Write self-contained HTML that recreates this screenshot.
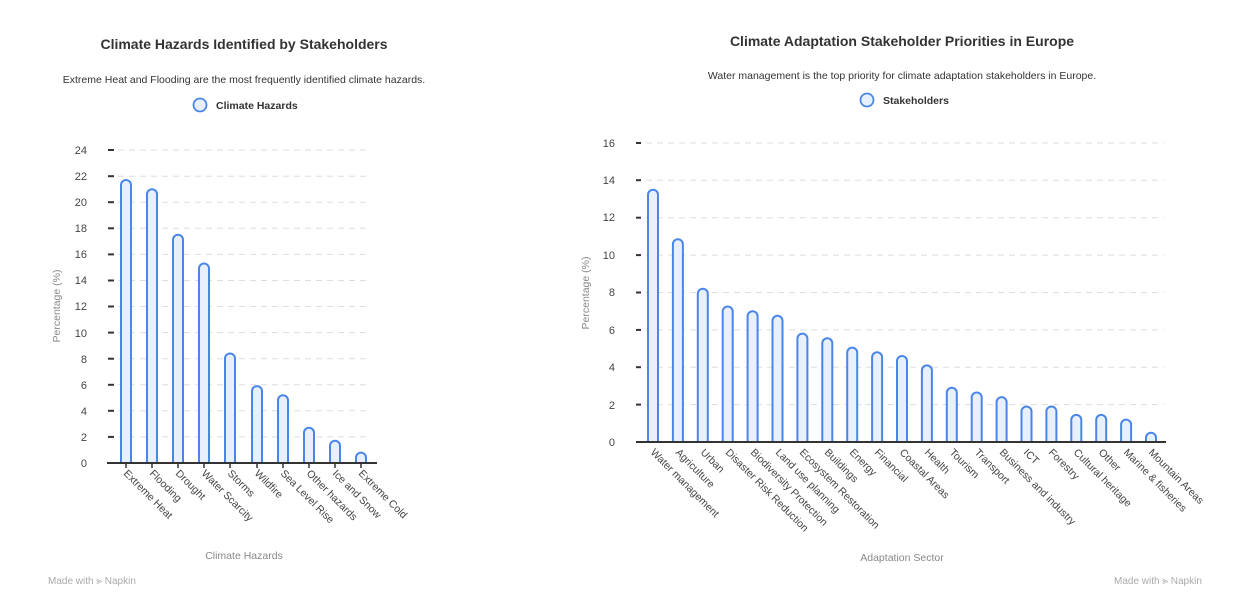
<!DOCTYPE html>
<html><head><meta charset="utf-8"><style>
html,body{margin:0;padding:0;background:#fff;}
svg{display:block;font-family:"Liberation Sans",sans-serif;}
.t{font-size:14px;font-weight:bold;fill:#333;text-anchor:middle}
.s{font-size:10.5px;fill:#333;text-anchor:middle}
.lg{font-size:10.5px;font-weight:bold;fill:#333}
.yl{font-size:11px;fill:#444;text-anchor:end}
.xl{font-size:10.5px;fill:#444}
.at{font-size:10.5px;fill:#888;text-anchor:middle}
.g{stroke:#ddd;stroke-width:1;stroke-dasharray:6 5}
.tk{stroke:#333;stroke-width:2}
.b rect{fill:#e8f0fe;stroke:#4a86e8;stroke-width:2}
.m{font-size:10px;fill:#aaa}
</style></head><body>
<svg width="1251" height="607" viewBox="0 0 1251 607">
<defs>
<clipPath id="c1"><rect x="0" y="0" width="600" height="464"/></clipPath>
<clipPath id="c2"><rect x="600" y="0" width="651" height="443"/></clipPath>
</defs>
<!-- LEFT -->
<text class="t" x="244" y="49">Climate Hazards Identified by Stakeholders</text>
<text class="s" x="244" y="83">Extreme Heat and Flooding are the most frequently identified climate hazards.</text>
<circle cx="200" cy="105" r="6.5" fill="#e8f0fe" stroke="#4a86e8" stroke-width="1.8"/>
<text class="lg" x="216" y="109">Climate Hazards</text>
<g>
<line class="g" x1="118" x2="370" y1="436.9" y2="436.9"/><line class="g" x1="118" x2="370" y1="410.8" y2="410.8"/>
<line class="g" x1="118" x2="370" y1="384.8" y2="384.8"/><line class="g" x1="118" x2="370" y1="358.7" y2="358.7"/>
<line class="g" x1="118" x2="370" y1="332.6" y2="332.6"/><line class="g" x1="118" x2="370" y1="306.5" y2="306.5"/>
<line class="g" x1="118" x2="370" y1="280.5" y2="280.5"/><line class="g" x1="118" x2="370" y1="254.4" y2="254.4"/>
<line class="g" x1="118" x2="370" y1="228.3" y2="228.3"/><line class="g" x1="118" x2="370" y1="202.2" y2="202.2"/>
<line class="g" x1="118" x2="370" y1="176.2" y2="176.2"/><line class="g" x1="118" x2="370" y1="150" y2="150"/>
<line class="tk" x1="108" x2="114" y1="436.9" y2="436.9"/><line class="tk" x1="108" x2="114" y1="410.8" y2="410.8"/>
<line class="tk" x1="108" x2="114" y1="384.8" y2="384.8"/><line class="tk" x1="108" x2="114" y1="358.7" y2="358.7"/>
<line class="tk" x1="108" x2="114" y1="332.6" y2="332.6"/><line class="tk" x1="108" x2="114" y1="306.5" y2="306.5"/>
<line class="tk" x1="108" x2="114" y1="280.5" y2="280.5"/><line class="tk" x1="108" x2="114" y1="254.4" y2="254.4"/>
<line class="tk" x1="108" x2="114" y1="228.3" y2="228.3"/><line class="tk" x1="108" x2="114" y1="202.2" y2="202.2"/>
<line class="tk" x1="108" x2="114" y1="176.2" y2="176.2"/><line class="tk" x1="108" x2="114" y1="150" y2="150"/>
</g>
<g>
<text class="yl" x="87" y="467">0</text><text class="yl" x="87" y="441">2</text><text class="yl" x="87" y="415">4</text>
<text class="yl" x="87" y="389">6</text><text class="yl" x="87" y="363">8</text><text class="yl" x="87" y="337">10</text>
<text class="yl" x="87" y="310">12</text><text class="yl" x="87" y="284">14</text><text class="yl" x="87" y="258">16</text>
<text class="yl" x="87" y="232">18</text><text class="yl" x="87" y="206">20</text><text class="yl" x="87" y="180">22</text>
<text class="yl" x="87" y="154">24</text>
</g>
<text class="at" transform="translate(60,306) rotate(-90)">Percentage (%)</text>
<g class="b" clip-path="url(#c1)">
<rect x="121" y="180" width="10" height="295" rx="5"/>
<rect x="147" y="189.2" width="10" height="285" rx="5"/>
<rect x="173" y="234.8" width="10" height="240" rx="5"/>
<rect x="199" y="263.5" width="10" height="210" rx="5"/>
<rect x="225" y="353.5" width="10" height="120" rx="5"/>
<rect x="252" y="386.1" width="10" height="90" rx="5"/>
<rect x="278" y="395.2" width="10" height="80" rx="5"/>
<rect x="304" y="427.8" width="10" height="50" rx="5"/>
<rect x="330" y="440.8" width="10" height="40" rx="5"/>
<rect x="356" y="452.6" width="10" height="30" rx="5"/>
</g>
<line x1="107" x2="377" y1="463" y2="463" stroke="#333" stroke-width="2"/>
<g stroke="#333" stroke-width="1.5">
<line x1="126" x2="126" y1="463" y2="468"/><line x1="152" x2="152" y1="463" y2="468"/><line x1="178" x2="178" y1="463" y2="468"/>
<line x1="204" x2="204" y1="463" y2="468"/><line x1="230" x2="230" y1="463" y2="468"/><line x1="257" x2="257" y1="463" y2="468"/>
<line x1="283" x2="283" y1="463" y2="468"/><line x1="309" x2="309" y1="463" y2="468"/><line x1="335" x2="335" y1="463" y2="468"/>
<line x1="361" x2="361" y1="463" y2="468"/>
</g>
<g class="xl">
<text transform="translate(123,474) rotate(45)">Extreme Heat</text>
<text transform="translate(149,474) rotate(45)">Flooding</text>
<text transform="translate(175,474) rotate(45)">Drought</text>
<text transform="translate(201,474) rotate(45)">Water Scarcity</text>
<text transform="translate(227,474) rotate(45)">Storms</text>
<text transform="translate(254,474) rotate(45)">Wildfire</text>
<text transform="translate(280,474) rotate(45)">Sea Level Rise</text>
<text transform="translate(306,474) rotate(45)">Other hazards</text>
<text transform="translate(332,474) rotate(45)">Ice and Snow</text>
<text transform="translate(358,474) rotate(45)">Extreme Cold</text>
</g>
<text class="at" x="244" y="559">Climate Hazards</text>
<text class="m" x="48" y="584">Made with ⪢ Napkin</text>

<!-- RIGHT -->
<text class="t" x="902" y="46">Climate Adaptation Stakeholder Priorities in Europe</text>
<text class="s" x="902" y="79">Water management is the top priority for climate adaptation stakeholders in Europe.</text>
<circle cx="867" cy="100" r="6.5" fill="#e8f0fe" stroke="#4a86e8" stroke-width="1.8"/>
<text class="lg" x="883" y="104">Stakeholders</text>
<g>
<line class="g" x1="646" x2="1164" y1="404.6" y2="404.6"/><line class="g" x1="646" x2="1164" y1="367.2" y2="367.2"/>
<line class="g" x1="646" x2="1164" y1="329.9" y2="329.9"/><line class="g" x1="646" x2="1164" y1="292.5" y2="292.5"/>
<line class="g" x1="646" x2="1164" y1="255.1" y2="255.1"/><line class="g" x1="646" x2="1164" y1="217.7" y2="217.7"/>
<line class="g" x1="646" x2="1164" y1="180.2" y2="180.2"/><line class="g" x1="646" x2="1164" y1="143" y2="143"/>
<line class="tk" x1="636" x2="641" y1="404.6" y2="404.6"/><line class="tk" x1="636" x2="641" y1="367.2" y2="367.2"/>
<line class="tk" x1="636" x2="641" y1="329.9" y2="329.9"/><line class="tk" x1="636" x2="641" y1="292.5" y2="292.5"/>
<line class="tk" x1="636" x2="641" y1="255.1" y2="255.1"/><line class="tk" x1="636" x2="641" y1="217.7" y2="217.7"/>
<line class="tk" x1="636" x2="641" y1="180.2" y2="180.2"/><line class="tk" x1="636" x2="641" y1="143" y2="143"/>
</g>
<g>
<text class="yl" x="615" y="446">0</text><text class="yl" x="615" y="409">2</text><text class="yl" x="615" y="371">4</text>
<text class="yl" x="615" y="334">6</text><text class="yl" x="615" y="296">8</text><text class="yl" x="615" y="259">10</text>
<text class="yl" x="615" y="221">12</text><text class="yl" x="615" y="184">14</text><text class="yl" x="615" y="147">16</text>
</g>
<text class="at" transform="translate(589,293) rotate(-90)">Percentage (%)</text>
<g class="b" clip-path="url(#c2)">
<rect x="648" y="189.7" width="10" height="262" rx="5"/>
<rect x="672.9" y="239.2" width="10" height="213" rx="5"/>
<rect x="697.8" y="288.7" width="10" height="163" rx="5"/>
<rect x="722.7" y="306.5" width="10" height="146" rx="5"/>
<rect x="747.6" y="311.2" width="10" height="141" rx="5"/>
<rect x="772.5" y="315.8" width="10" height="136" rx="5"/>
<rect x="797.4" y="333.6" width="10" height="118" rx="5"/>
<rect x="822.3" y="338.3" width="10" height="114" rx="5"/>
<rect x="847.2" y="347.6" width="10" height="104" rx="5"/>
<rect x="872.1" y="352.3" width="10" height="100" rx="5"/>
<rect x="897" y="356" width="10" height="96" rx="5"/>
<rect x="921.9" y="365.4" width="10" height="86" rx="5"/>
<rect x="946.8" y="387.8" width="10" height="64" rx="5"/>
<rect x="971.7" y="392.5" width="10" height="60" rx="5"/>
<rect x="996.6" y="397.1" width="10" height="55" rx="5"/>
<rect x="1021.5" y="406.5" width="10" height="46" rx="5"/>
<rect x="1046.4" y="406.5" width="10" height="46" rx="5"/>
<rect x="1071.3" y="414.9" width="10" height="38" rx="5"/>
<rect x="1096.2" y="414.9" width="10" height="38" rx="5"/>
<rect x="1121.1" y="419.6" width="10" height="33" rx="5"/>
<rect x="1146" y="432.7" width="10" height="20" rx="5"/>
</g>
<line x1="636" x2="1166" y1="442" y2="442" stroke="#333" stroke-width="2"/>
<g class="xl">
<text transform="translate(650,453) rotate(45)">Water management</text>
<text transform="translate(675,453) rotate(45)">Agriculture</text>
<text transform="translate(700,453) rotate(45)">Urban</text>
<text transform="translate(725,453) rotate(45)">Disaster Risk Reduction</text>
<text transform="translate(750,453) rotate(45)">Biodiversity Protection</text>
<text transform="translate(775,453) rotate(45)">Land use planning</text>
<text transform="translate(799,453) rotate(45)">Ecosystem Restoration</text>
<text transform="translate(824,453) rotate(45)">Buildings</text>
<text transform="translate(849,453) rotate(45)">Energy</text>
<text transform="translate(874,453) rotate(45)">Financial</text>
<text transform="translate(899,453) rotate(45)">Coastal Areas</text>
<text transform="translate(924,453) rotate(45)">Health</text>
<text transform="translate(949,453) rotate(45)">Tourism</text>
<text transform="translate(974,453) rotate(45)">Transport</text>
<text transform="translate(999,453) rotate(45)">Business and industry</text>
<text transform="translate(1023,453) rotate(45)">ICT</text>
<text transform="translate(1048,453) rotate(45)">Forestry</text>
<text transform="translate(1073,453) rotate(45)">Cultural heritage</text>
<text transform="translate(1098,453) rotate(45)">Other</text>
<text transform="translate(1123,453) rotate(45)">Marine &amp; fisheries</text>
<text transform="translate(1148,453) rotate(45)">Mountain Areas</text>
</g>
<text class="at" x="902" y="561">Adaptation Sector</text>
<text class="m" x="1114" y="584">Made with ⪢ Napkin</text>
</svg>
</body></html>
